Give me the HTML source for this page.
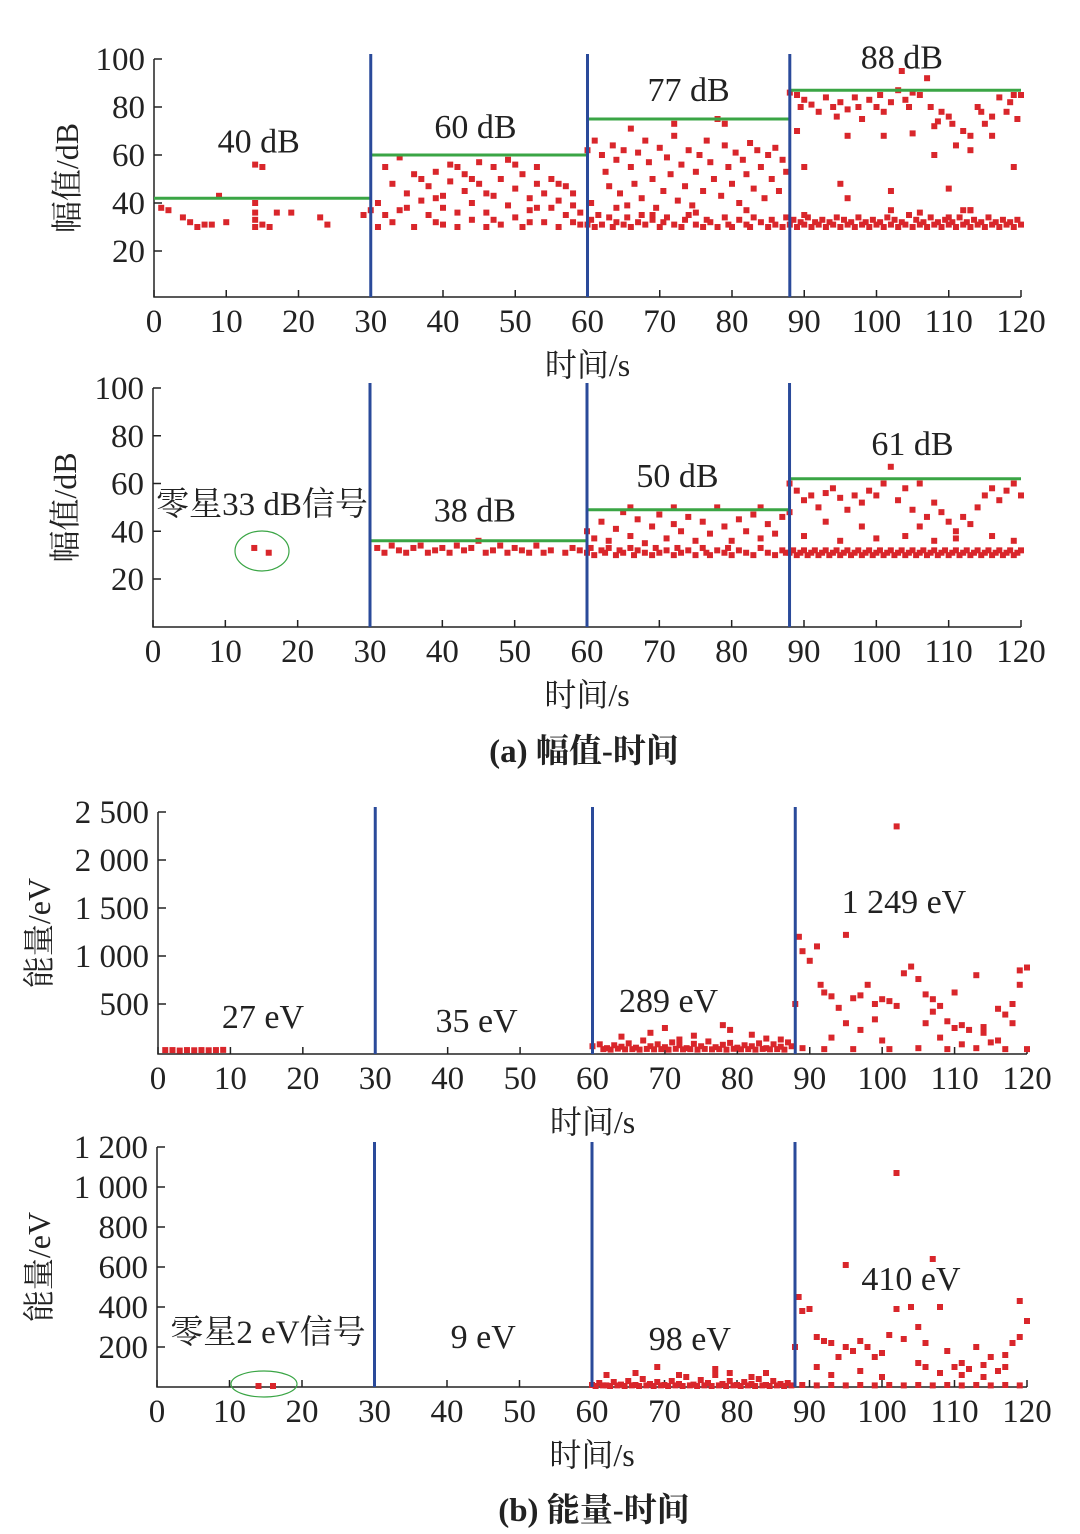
<!DOCTYPE html>
<html><head><meta charset="utf-8">
<style>
html,body{margin:0;padding:0;background:#fff;}
svg{display:block;font-family:"Liberation Serif","Noto Serif CJK SC",serif;}
</style></head>
<body>
<svg id="chart" width="1080" height="1534" viewBox="0 0 1080 1534" xmlns="http://www.w3.org/2000/svg"></svg>
<script>
// ---- data ----
const xTicks = [0,10,20,30,40,50,60,70,80,90,100,110,120];
const splitTimes = [30,60,88];
// panel 1 amplitude (whole signal)
const p1Ticks = [20,40,60,80,100];
const p1Levels = [[0,30,42],[30,60,60],[60,88,75],[88,120,87]];
const p1Labels = [[14.5,"40 dB",61],[44.5,"60 dB",67],[74,"77 dB",82.5],[103.5,"88 dB",96]];
const p1Points = [[1,38],[2,37],[4,34],[5,32],[6,30],[7,31],[8,31],[9,43],[10,32],[14,56],[15,55],[14,40],[14,36],[14,33],[14,30],[15,31],[16,30],[17,36],[19,36],[23,34],[24,31],[29,35],[30,37],
[31,30],[31,40],[32,35],[33,48],[33,32],[34,59],[35,44],[35,38],[36,30],[37,50],[37,41],[38,35],[38,47],[39,53],[39,32],[40,43],[40,38],[41,56],[41,49],[42,30],[42,36],[43,45],[43,52],[44,40],[44,33],[45,57],[45,48],[46,36],[46,30],[47,55],[47,43],[48,50],[48,31],[49,39],[49,58],[50,46],[50,34],[51,52],[51,30],[52,42],[52,37],[53,55],[53,48],[54,32],[54,44],[55,50],[55,38],[56,41],[56,30],[57,47],[57,35],[58,39],[58,32],[59,36],[59,31],[32,55],[36,52],[39,42],[42,55],[44,50],[47,33],[50,56],[53,38],[56,48],[34,37],[40,31],[46,44],[52,32],[58,44],
[60,31],[60.5,33],[61,30],[61.5,35],[62,31],[63,34],[63.5,30],[64,32],[65,31],[65.5,34],[66,30],[67,32],[67.5,35],[68,31],[69,33],[70,30],[70.5,32],[71,34],[72,31],[73,30],[73.5,33],[74,35],[75,31],[76,30],[76.5,33],[77,32],[78,30],[79,34],[79.5,31],[80,30],[81,33],[82,31],[82.5,30],[83,34],[84,32],[85,30],[85.5,33],[86,31],[87,30],[87.5,34],
[60,62],[60.5,40],[61,66],[62,60],[62.5,53],[63,47],[63.5,64],[64,58],[64.5,44],[65,62],[65.5,39],[66,55],[66.5,48],[67,61],[67.5,42],[68,66],[68.5,57],[69,50],[69.5,38],[70,63],[70.5,45],[71,59],[71.5,52],[72,68],[72.5,41],[73,56],[73.5,47],[74,62],[74.5,39],[75,53],[75.5,60],[76,45],[76.5,66],[77,57],[77.5,50],[78,75],[78.5,43],[79,64],[79.5,55],[80,48],[80.5,61],[81,40],[81.5,58],[82,52],[82.5,65],[83,46],[83.5,62],[84,55],[84.5,42],[85,60],[85.5,50],[86,63],[86.5,45],[87,58],[87.5,53],[66,71],[72,73],[79,73],[69,35],[75,36],[82,37],[64,38],
[88,31],[88.5,33],[89,30],[89.5,32],[90,31],[90.5,34],[91,30],[91.5,32],[92,31],[92.5,33],[93,30],[93.5,32],[94,31],[94.5,34],[95,30],[95.5,33],[96,31],[96.5,32],[97,30],[97.5,34],[98,31],[98.5,32],[99,30],[99.5,33],[100,31],[100.5,32],[101,30],[101.5,34],[102,31],[102.5,33],[103,30],[103.5,32],[104,31],[104.5,35],[105,30],[105.5,33],[106,31],[106.5,32],[107,30],[107.5,34],[108,31],[108.5,32],[109,30],[109.5,33],[110,31],[110.5,32],[111,30],[111.5,34],[112,31],[112.5,32],[113,30],[113.5,33],[114,31],[114.5,32],[115,30],[115.5,34],[116,31],[116.5,32],[117,30],[117.5,33],[118,31],[118.5,32],[119,30],[119.5,33],[120,31],[90,35],[102,37],[106,36],[110,34],[113,37],
[88,86],[89,85],[89.5,80],[90,83],[91,81],[92,78],[93,84],[94,80],[94.5,76],[95,82],[96,79],[97,84],[97.5,80],[98,75],[99,83],[100,80],[100.5,85],[101,78],[102,82],[103,87],[103.5,95],[104,83],[104.5,80],[105,86],[106,85],[107,92],[107.5,80],[108,72],[108.5,74],[109,78],[110,76],[110.5,73],[111,64],[112,70],[113,68],[114,80],[114.5,78],[115,73],[116,76],[117,84],[118,78],[118.5,82],[119,85],[119.5,75],[120,85],[89,70],[90,55],[96,68],[101,68],[105,69],[108,60],[113,62],[116,68],[95,48],[96,42],[102,45],[110,46],[119,55],[112,37],[113,37]];

// panel 2 amplitude (filtered)
const p2Ticks = [20,40,60,80,100];
const p2Levels = [[30,60,36],[60,88,49],[88,120,62]];
const p2Labels = [[44.5,"38 dB",44],[72.5,"50 dB",58.5],[105,"61 dB",72]];
const p2Points = [[14,33],[16,31],
[31,33],[32,31],[33,34],[34,32],[35,31],[36,33],[37,34],[38,31],[39,32],[40,33],[41,31],[42,34],[43,32],[44,33],[45,36],[46,31],[47,32],[48,34],[49,31],[50,33],[51,32],[52,31],[53,34],[54,31],[55,32],[57,31],[58,33],[59,32],
[60,31],[60.5,33],[61,30],[62,32],[62.5,31],[63,33],[64,30],[64.5,32],[65,31],[66,33],[66.5,30],[67,32],[68,31],[69,30],[69.5,33],[70,31],[71,32],[72,30],[72.5,33],[73,31],[74,32],[75,30],[76,33],[76.5,31],[77,30],[78,32],[79,31],[79.5,33],[80,30],[81,32],[82,31],[83,30],[84,33],[85,31],[86,30],[87,32],[87.5,31],
[60,40],[61,37],[62,44],[63,36],[64,41],[65,48],[66,38],[67,45],[68,35],[69,42],[70,47],[71,37],[72,43],[73,40],[74,46],[75,36],[76,44],[77,39],[78,50],[79,42],[80,36],[81,45],[82,40],[83,47],[84,37],[85,43],[86,39],[87,46],[66,50],[72,50],[84,50],[88,48],
[88,31],[88.5,32],[89,30],[89.5,31],[90,32],[90.5,30],[91,31],[91.5,32],[92,30],[92.5,31],[93,32],[93.5,30],[94,31],[94.5,32],[95,30],[95.5,31],[96,32],[96.5,30],[97,31],[97.5,32],[98,30],[98.5,31],[99,32],[99.5,30],[100,31],[100.5,32],[101,30],[101.5,31],[102,32],[102.5,30],[103,31],[103.5,32],[104,30],[104.5,31],[105,32],[105.5,30],[106,31],[106.5,32],[107,30],[107.5,31],[108,32],[108.5,30],[109,31],[109.5,32],[110,30],[110.5,31],[111,32],[111.5,30],[112,31],[112.5,32],[113,30],[113.5,31],[114,32],[114.5,30],[115,31],[115.5,32],[116,30],[116.5,31],[117,32],[117.5,30],[118,31],[118.5,32],[119,30],[119.5,31],[120,32],
[88,60],[89,57],[90,53],[91,55],[92,50],[93,56],[94,58],[95,54],[96,49],[97,55],[98,52],[99,57],[100,55],[101,60],[102,67],[103,53],[104,58],[105,49],[106,60],[107,46],[108,52],[109,48],[110,44],[111,40],[112,46],[113,43],[114,50],[115,55],[116,58],[117,53],[118,57],[119,60],[120,55],[90,38],[95,36],[100,37],[104,38],[108,36],[111,37],[116,38],[119,36],[93,44],[98,42],[106,42]];

// panel 3 energy (whole)
const p3Ticks = [500,1000,1500,2000,2500];
const p3Labels = [[14.5,"27 eV",250],[44,"35 eV",208],[70.5,"289 eV",417],[103,"1 249 eV",1448]];
const p3Points = [[1,20],[2,20],[3,15],[4,20],[5,18],[6,20],[7,18],[8,20],[9,22],
[60,60],[61,80],[62,40],[63,70],[64,55],[65,90],[66,45],[67,120],[68,60],[69,80],[70,50],[71,100],[72,70],[73,40],[74,85],[75,60],[76,110],[77,50],[78,75],[79,95],[80,45],[81,70],[82,60],[83,90],[84,40],[85,80],[86,55],[87,100],[87.5,60],
[61.5,30],[62.5,25],[63.5,35],[64.5,28],[65.5,30],[66.5,25],[67.5,32],[68.5,28],[69.5,30],[70.5,25],[71.5,33],[72.5,28],[73.5,30],[74.5,25],[75.5,32],[76.5,28],[77.5,30],[78.5,25],[79.5,33],[80.5,28],[81.5,30],[82.5,25],[83.5,32],[84.5,28],[85.5,30],[86.5,25],
[64,160],[68,200],[70,250],[72,130],[78,280],[79,230],[82,180],[84,140],[86,130],[74,170],
[88,500],[88.5,1200],[89,1050],[90,950],[91,1100],[91.5,700],[92,620],[93,580],[94,460],[95,300],[96,560],[97,590],[98,700],[99,500],[100,550],[101,530],[102,480],[103,820],[104,890],[105,760],[106,600],[107,550],[108,480],[109,320],[110,250],[111,280],[112,230],[113,800],[114,200],[115,100],[116,120],[117,390],[118,500],[119,700],[120,880],[95,1220],[102,2350],[93,150],[97,230],[100,120],[106,300],[108,150],[111,80],[114,260],[116,450],[118,300],[119,850],[107,420],[110,620],[99,340],[89,40],[92,30],[96,30],[101,30],[105,40],[109,30],[113,40],[117,30],[120,30]];

// panel 4 energy (filtered)
const p4Ticks = [200,400,600,800,1000,1200];
const p4Labels = [[45,"9 eV",195],[73.5,"98 eV",185],[104,"410 eV",485]];
const p4Points = [[14,5],[16,5],
[60,10],[61,20],[62,8],[63,25],[64,12],[65,30],[66,10],[67,40],[68,15],[69,25],[70,10],[71,30],[72,15],[73,50],[74,12],[75,35],[76,20],[77,60],[78,15],[79,30],[80,10],[81,25],[82,15],[83,40],[84,10],[85,30],[86,15],[87,20],
[60.5,5],[61.5,8],[62.5,5],[63.5,8],[64.5,5],[65.5,8],[66.5,5],[67.5,8],[68.5,5],[69.5,8],[70.5,5],[71.5,8],[72.5,5],[73.5,8],[74.5,5],[75.5,8],[76.5,5],[77.5,8],[78.5,5],[79.5,8],[80.5,5],[81.5,8],[82.5,5],[83.5,8],[84.5,5],[85.5,8],[86.5,5],[87.5,8],
[62,60],[66,70],[69,100],[72,60],[77,90],[79,70],[82,50],[84,70],
[88,200],[88.5,450],[89,380],[90,390],[91,250],[92,230],[93,220],[94,150],[95,200],[96,180],[97,230],[98,200],[99,150],[100,170],[101,260],[102,390],[103,240],[104,400],[105,300],[106,220],[107,640],[108,400],[109,180],[110,100],[111,120],[112,90],[113,200],[114,110],[115,150],[116,80],[117,160],[118,220],[119,430],[120,330],[95,610],[102,1070],[93,60],[97,80],[100,50],[106,100],[108,70],[111,60],[114,50],[117,100],[119,250],[91,100],[105,120],
[89,10],[91,8],[93,10],[95,8],[97,10],[99,8],[101,10],[103,8],[105,10],[107,8],[109,10],[111,8],[113,10],[115,8],[117,10],[119,8]];

// ---- drawing ----
const svg = document.getElementById('chart');
const NS = 'http://www.w3.org/2000/svg';
function mk(tag, attrs, parent){const e=document.createElementNS(NS,tag);for(const k in attrs)e.setAttribute(k,attrs[k]);(parent||svg).appendChild(e);return e;}
function fmt(v){const s=String(v);return s.length>3?s.slice(0,s.length-3)+' '+s.slice(-3):s;}

function panel(cfg){
  const g = mk('g',{});
  
  
  const xs = t => cfg.x0 + (cfg.x1-cfg.x0)*t/120;
  const ys = v => cfg.yb - (v-cfg.ymin)*(cfg.yb-cfg.yt)/(cfg.ymax-cfg.ymin);
  const ax = mk('path',{d:`M${cfg.x0},${cfg.axTop} L${cfg.x0},${cfg.axBot} L${cfg.x1},${cfg.axBot}`,stroke:'#222','stroke-width':1.5,fill:'none'},g);
  
  
  cfg.yTicks.forEach(v=>{
    mk('line',{x1:cfg.x0,x2:cfg.x0+8,y1:ys(v),y2:ys(v),stroke:'#222','stroke-width':1.5},g);
    const t = mk('text',{x:cfg.x0-9,y:ys(v)+11,'text-anchor':'end','font-size':33,fill:'#222'},g);
    t.textContent = fmt(v);
    
    
  });
  xTicks.forEach(v=>{
    mk('line',{x1:xs(v),x2:xs(v),y1:cfg.axBot,y2:cfg.axBot-7,stroke:'#222','stroke-width':1.5},g);
    const t = mk('text',{x:xs(v),y:cfg.axBot+35,'text-anchor':'middle','font-size':33,fill:'#222'},g);
    t.textContent = v;
    
    
  });
  const xt = mk('text',{x:(cfg.x0+cfg.x1)/2,y:cfg.axBot+79,'text-anchor':'middle','font-size':32,fill:'#222'},g);
  xt.textContent='时间/s';
  
  
  const yt = mk('text',{x:0,y:0,'text-anchor':'middle','font-size':32,fill:'#222',transform:`translate(${cfg.ylx},${(cfg.axTop+cfg.axBot)/2}) rotate(-90)`},g);
  yt.textContent=cfg.ytitle;
  
  
  cfg.points.forEach(p=>{
    const r = mk('rect',{x:xs(p[0])-3,y:ys(p[1])-3,width:6,height:6,fill:'#d9262b'},g);
    
    
  });
  (cfg.levels||[]).forEach(l=>{
    const ln = mk('line',{x1:xs(l[0]),x2:xs(l[1]),y1:ys(l[2]),y2:ys(l[2]),stroke:'#3aa545','stroke-width':3},g);
    
    
  });
  splitTimes.forEach(s=>{
    const ln = mk('line',{x1:xs(s),x2:xs(s),y1:cfg.axTop-5,y2:cfg.axBot,stroke:'#2a4a9a','stroke-width':3},g);
    
    
  });
  cfg.labels.forEach(l=>{
    const t = mk('text',{x:xs(l[0]),y:ys(l[2]),'text-anchor':'middle','font-size':34,fill:'#222'},g);
    t.textContent=l[1];
    
    
  });
  (cfg.extra||[]).forEach(f=>f(g,xs,ys));
}

panel({name:'amplitude-panel-whole',x0:154,x1:1021,yt:59,yb:251,ymin:20,ymax:100,axTop:59,axBot:297,ylx:78,ytitle:'幅值/dB',yTicks:p1Ticks,levels:p1Levels,labels:p1Labels,points:p1Points});
panel({name:'amplitude-panel-filtered',x0:153,x1:1021,yt:388,yb:579,ymin:20,ymax:100,axTop:388,axBot:627,ylx:76,ytitle:'幅值/dB',yTicks:p2Ticks,levels:p2Levels,labels:p2Labels,points:p2Points,
  extra:[(g)=>{const t=mk('text',{x:262,y:515,'text-anchor':'middle','font-size':33,fill:'#222'},g);t.textContent='零星33 dB信号';
    const e=mk('ellipse',{cx:262,cy:551,rx:27,ry:20,fill:'none',stroke:'#3aa545','stroke-width':1.2},g);}]});
panel({name:'energy-panel-whole',x0:158,x1:1027,yt:812,yb:1004,ymin:500,ymax:2500,axTop:812,axBot:1054,ylx:50,ytitle:'能量/eV',yTicks:p3Ticks,labels:p3Labels,points:p3Points});
panel({name:'energy-panel-filtered',x0:157,x1:1027,yt:1147,yb:1347,ymin:200,ymax:1200,axTop:1147,axBot:1387,ylx:50,ytitle:'能量/eV',yTicks:p4Ticks,labels:p4Labels,points:p4Points,
  extra:[(g)=>{const t=mk('text',{x:268,y:1343,'text-anchor':'middle','font-size':33,fill:'#222'},g);t.textContent='零星2 eV信号';
    const e=mk('ellipse',{cx:264,cy:1384,rx:33,ry:13,fill:'none',stroke:'#3aa545','stroke-width':1.2},g);}]});

const c1 = mk('text',{x:584,y:762,'text-anchor':'middle','font-size':33,'font-weight':'bold',fill:'#222'});
c1.textContent='(a) 幅值-时间';


const c2 = mk('text',{x:594,y:1521,'text-anchor':'middle','font-size':33,'font-weight':'bold',fill:'#222'});
c2.textContent='(b) 能量-时间';


</script>
</body></html>
